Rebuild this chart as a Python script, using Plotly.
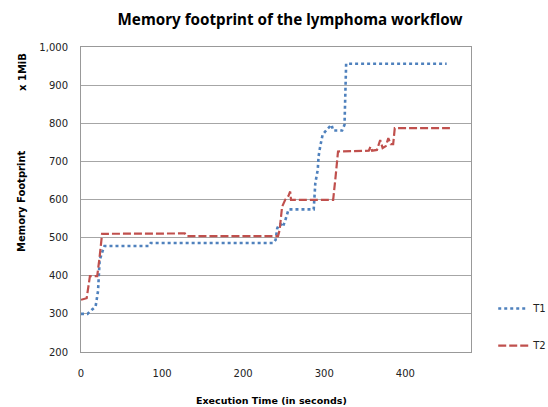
import plotly.graph_objects as go

# Data
t1_time = [0, 8, 13, 18, 21, 23, 27, 29, 84, 86, 237, 240, 242, 244, 246, 249, 252, 256, 287,
           289, 292, 293, 295, 298, 303, 309, 311, 322, 325, 327, 451]
t1_mem = [300, 300, 310, 319, 360, 441, 467, 478, 478, 486, 486, 494, 524, 533, 536, 528, 546, 574, 574,
          643, 678, 713, 739, 770, 783, 796, 781, 781, 796, 956, 956]

t2_time = [0, 7, 11, 20, 23, 26, 128, 130, 243, 245, 248, 252, 256, 258, 259, 311, 314, 317,
           355, 357, 359, 365, 369, 372, 376, 379, 382, 385, 387, 455]
t2_mem = [337, 341, 399, 399, 450, 510, 511, 504, 504, 520, 581, 600, 610, 621, 599, 599, 660, 726,
          728, 739, 728, 730, 756, 735, 740, 761, 745, 745, 787, 787]

series_names = ["T1", "T2"]
y_ticks = [200, 300, 400, 500, 600, 700, 800, 900, 1000]
x_ticks = [0, 100, 200, 300, 400]

FONT = "DejaVu Sans"
TITLE_FONT = "Noto Sans"
L, R, T, B = 81, 77, 47, 55
W, H = 548, 407

fig = go.Figure()
fig.add_trace(go.Scatter(x=t1_time, y=t1_mem, mode="lines", name=series_names[0],
                         legendgroup="a",
                         line=dict(color="#4F81BD", width=2.6, dash="3px,3px")))
fig.add_trace(go.Scatter(x=t2_time, y=t2_mem, mode="lines", name=series_names[1],
                         legendgroup="b",
                         line=dict(color="#C0504D", width=2.2, dash="8px,3px")))

fig.update_layout(
    width=W, height=H,
    margin=dict(l=L, r=R, t=T, b=B, autoexpand=False),
    paper_bgcolor="white", plot_bgcolor="white",
    font=dict(family=FONT, size=10, color="#222"),
    title=dict(text="<b>Memory footprint of the lymphoma workflow</b>",
               x=290/W, xanchor="center", y=1 - 20/H, yanchor="middle",
               font=dict(family=TITLE_FONT, size=15.2, color="black")),
    showlegend=True,
    legend=dict(x=1.057, xanchor="left", y=0.19, yanchor="top",
                traceorder="grouped", tracegroupgap=18,
                font=dict(family=FONT, size=10, color="#222"),
                bgcolor="rgba(0,0,0,0)"),
    xaxis=dict(range=[0, 481], tickvals=x_ticks, showgrid=False, zeroline=False,
               showline=True, linecolor="#999", linewidth=1, mirror=True,
               ticks="", ticklabelstandoff=12, automargin=False,
               tickfont=dict(family=FONT, size=10, color="#222")),
    yaxis=dict(range=[200, 1000], tickvals=y_ticks, tickformat=",d",
               showgrid=True, gridcolor="#a6a6a6", gridwidth=1, zeroline=False,
               showline=True, linecolor="#999", linewidth=1, mirror=True,
               ticks="", ticklabelstandoff=10, automargin=False,
               tickfont=dict(family=FONT, size=10, color="#222")),
)

pw = W - L - R
ph = H - T - B


def px_annot(text, x, y, angle=0, size=10):
    fig.add_annotation(text=text, xref="paper", yref="paper",
                       x=(x - L) / pw, y=(H - B - y) / ph,
                       xanchor="center", yanchor="middle", textangle=angle,
                       showarrow=False, font=dict(family=FONT, size=size, color="black"))


px_annot("<b>Memory Footprint</b>", 22, 201, -90, 10)
px_annot("<b>x 1MiB</b>", 22, 72, -90, 10)
px_annot("<b>Execution Time (in seconds)</b>", 271, 400, 0, 9.5)

fig.write_html("out.html", config={"displayModeBar": False},
               post_script="document.body.style.margin='0';document.body.style.overflow='hidden';")
